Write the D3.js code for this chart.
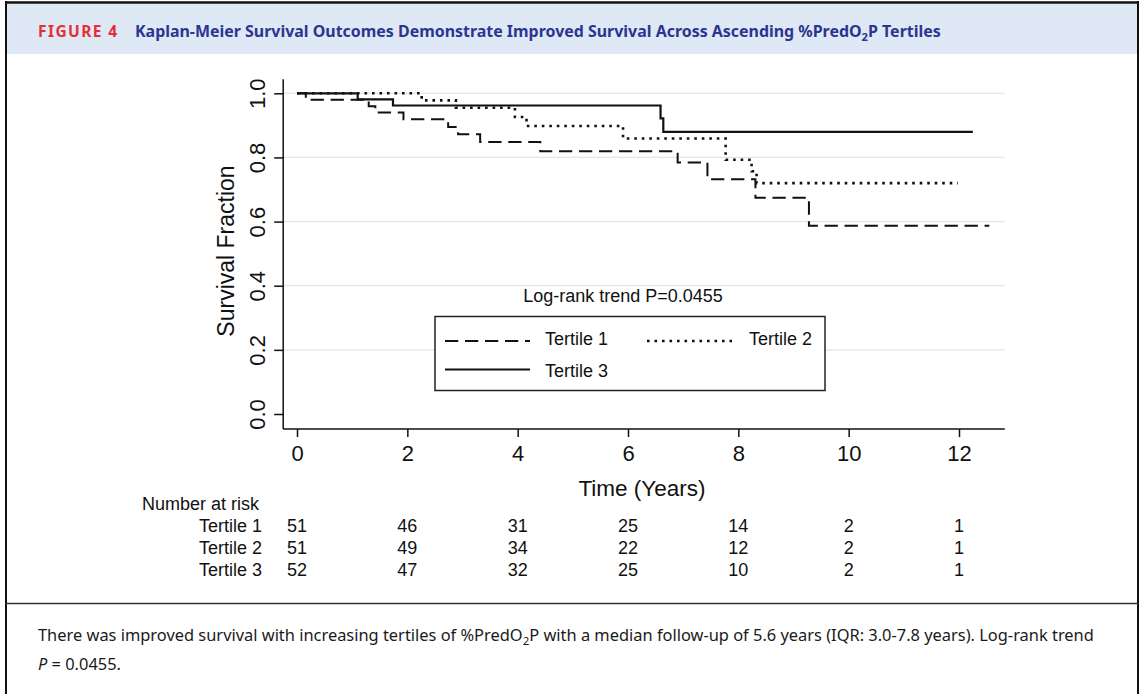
<!DOCTYPE html>
<html>
<head>
<meta charset="utf-8">
<script src="https://cdn.jsdelivr.net/npm/d3@7"></script>
<style>
  body { margin: 0; background: #fff; }
  svg { display: block; font-family: "Liberation Sans", Arial, sans-serif; }
</style>
</head>
<body>
<div id="chart"></div>
<script>
// Kaplan-Meier steps (years, survival fraction)
let t1Times = [0, 0.16, 1.30, 1.42, 1.93, 2.74, 2.92, 3.32, 4.41, 6.90, 7.44, 8.31, 9.28];
let t1Surv  = [1, 0.980, 0.960, 0.940, 0.919, 0.895, 0.872, 0.848, 0.819, 0.784, 0.732, 0.674, 0.587];
let t1End = 12.55;

let t2Times = [0, 2.26, 2.88, 3.95, 4.16, 5.91, 7.77, 8.24, 8.33];
let t2Surv  = [1, 0.978, 0.955, 0.926, 0.898, 0.859, 0.793, 0.757, 0.720];
let t2End = 11.98;

let t3Times = [0, 1.10, 1.74, 6.59, 6.64];
let t3Surv  = [1, 0.981, 0.962, 0.922, 0.880];
let t3End = 12.25;

let seriesNames = ["Tertile 1", "Tertile 2", "Tertile 3"];

// number at risk table
let riskTimes = [0, 2, 4, 6, 8, 10, 12];
let risk1 = [51, 46, 31, 25, 14, 2, 1];
let risk2 = [51, 49, 34, 22, 12, 2, 1];
let risk3 = [52, 47, 32, 25, 10, 2, 1];

// axis ticks
let xTicks = [0, 2, 4, 6, 8, 10, 12];
let yTicks = [0, 0.2, 0.4, 0.6, 0.8, 1.0];
let yTickLabels = ["0.0", "0.2", "0.4", "0.6", "0.8", "1.0"];
let xAxisExtent = [-0.25, 12.83];
let yAxisExtent = [-0.047, 1.044];

let svgWidth = 1142;
let svgHeight = 694;

let svg = d3.select("#chart")
  .append("svg")
  .attr("width", svgWidth)
  .attr("height", svgHeight);

// scale text so it spans a measured width
function fitText(sel, w) {
  let len = sel.node().getComputedTextLength();
  let fs = parseFloat(sel.attr("font-size"));
  sel.attr("font-size", fs * w / len);
}

// ---- frame and header ----
svg.append("rect")
  .attr("x", 7).attr("y", 4)
  .attr("width", 1130).attr("height", 50)
  .attr("fill", "#dfe9f5");

svg.append("line").attr("x1", 5).attr("x2", 1139).attr("y1", 2.5).attr("y2", 2.5)
  .attr("stroke", "#111").attr("stroke-width", 2.5);
svg.append("line").attr("x1", 6).attr("x2", 6).attr("y1", 1).attr("y2", svgHeight)
  .attr("stroke", "#111").attr("stroke-width", 2);
svg.append("line").attr("x1", 1138).attr("x2", 1138).attr("y1", 1).attr("y2", svgHeight)
  .attr("stroke", "#111").attr("stroke-width", 2);
svg.append("line").attr("x1", 6).attr("x2", 1138).attr("y1", 603.5).attr("y2", 603.5)
  .attr("stroke", "#333").attr("stroke-width", 1.5);

let figLabel = svg.append("text")
  .attr("x", 38).attr("y", 37)
  .attr("font-family", "'Noto Sans', sans-serif")
  .attr("font-weight", "bold")
  .attr("font-size", 14)
  .attr("letter-spacing", 1.4)
  .attr("fill", "#e3303a")
  .text("FIGURE 4");
fitText(figLabel, 82);

let title = svg.append("text")
  .attr("x", 135).attr("y", 37)
  .attr("font-family", "'Noto Sans', sans-serif")
  .attr("font-weight", "bold")
  .attr("font-size", 15)
  .attr("fill", "#2c3590");
title.append("tspan").text("Kaplan-Meier Survival Outcomes Demonstrate Improved Survival Across Ascending %PredO");
title.append("tspan").attr("font-size", "70%").attr("dy", 4).text("2");
title.append("tspan").attr("dy", -4).text("P Tertiles");
fitText(title, 806);

// ---- scales ----
let x = d3.scaleLinear().domain([0, 12]).range([297, 959]);
let y = d3.scaleLinear().domain([0, 1]).range([414, 93.3]);

// gridlines
svg.append("g")
  .selectAll("line")
  .data(yTicks.filter(d => d > 0))
  .enter()
  .append("line")
    .attr("x1", x(xAxisExtent[0]))
    .attr("x2", x(xAxisExtent[1]))
    .attr("y1", d => y(d))
    .attr("y2", d => y(d))
    .attr("stroke", "#e4e4e4")
    .attr("stroke-width", 1.3);

// x axis
let xAxisG = svg.append("g")
  .attr("transform", `translate(0, ${y(yAxisExtent[0])})`)
  .call(d3.axisBottom(x).tickValues(xTicks).tickSize(8).tickPadding(8).tickFormat(d3.format("d")));
xAxisG.select(".domain").remove();
xAxisG.selectAll("line").attr("stroke", "#111").attr("stroke-width", 1.5);
xAxisG.selectAll("text")
  .attr("font-family", "'Liberation Sans', Arial, sans-serif")
  .attr("font-size", 22)
  .attr("fill", "#111");
xAxisG.append("line")
  .attr("x1", x(xAxisExtent[0])).attr("x2", x(xAxisExtent[1]))
  .attr("stroke", "#111").attr("stroke-width", 1.5);

// y axis
let yAxisG = svg.append("g")
  .attr("transform", `translate(${x(xAxisExtent[0])}, 0)`)
  .call(d3.axisLeft(y).tickValues(yTicks).tickSize(9).tickFormat((d, i) => yTickLabels[i]));
yAxisG.select(".domain").remove();
yAxisG.selectAll("line").attr("stroke", "#111").attr("stroke-width", 1.5);
yAxisG.selectAll("text")
  .attr("transform", "rotate(-90)")
  .attr("x", 0)
  .attr("y", -18)
  .attr("dy", null)
  .attr("text-anchor", "middle")
  .attr("font-family", "'Liberation Sans', Arial, sans-serif")
  .attr("font-size", 22)
  .attr("fill", "#111");
yAxisG.append("line")
  .attr("y1", y(yAxisExtent[0])).attr("y2", y(yAxisExtent[1]))
  .attr("stroke", "#111").attr("stroke-width", 1.5);

// axis titles
svg.append("text")
  .attr("transform", `translate(234, 251) rotate(-90)`)
  .attr("text-anchor", "middle")
  .attr("font-size", 23)
  .attr("fill", "#111")
  .text("Survival Fraction");

svg.append("text")
  .attr("x", 642).attr("y", 496)
  .attr("text-anchor", "middle")
  .attr("font-size", 22.5)
  .attr("fill", "#111")
  .text("Time (Years)");

// ---- survival curves ----
let line = d3.line()
  .x(d => x(d[0]))
  .y(d => y(d[1]))
  .curve(d3.curveStepAfter);

function steps(times, surv, end) {
  let pts = times.map((t, i) => [t, surv[i]]);
  pts.push([end, surv[surv.length - 1]]);
  return pts;
}

let curves = [
  { pts: steps(t1Times, t1Surv, t1End), dash: "13.3,6.7", width: 2 },
  { pts: steps(t2Times, t2Surv, t2End), dash: "2.6,4.9", width: 2.6 },
  { pts: steps(t3Times, t3Surv, t3End), dash: null, width: 2.2 }
];

svg.append("g")
  .selectAll("path")
  .data(curves)
  .enter()
  .append("path")
    .attr("d", d => line(d.pts))
    .attr("fill", "none")
    .attr("stroke", "#111")
    .attr("stroke-width", d => d.width)
    .attr("stroke-dasharray", d => d.dash);

// ---- log-rank text and legend ----
svg.append("text")
  .attr("x", 623).attr("y", 302)
  .attr("text-anchor", "middle")
  .attr("font-size", 18)
  .attr("fill", "#111")
  .text("Log-rank trend P=0.0455");

svg.append("rect")
  .attr("x", 435).attr("y", 316.5)
  .attr("width", 390).attr("height", 74)
  .attr("fill", "#fff")
  .attr("stroke", "#222")
  .attr("stroke-width", 1.5);

let legendPos = [
  { x: 445, y: 341, tx: 545, ty: 345 },
  { x: 647, y: 341, tx: 749, ty: 345 },
  { x: 445, y: 369.5, tx: 545, ty: 377 }
];

let legend = svg.append("g")
  .selectAll("g")
  .data(curves)
  .enter()
  .append("g");

legend.append("line")
  .attr("x1", (d, i) => legendPos[i].x)
  .attr("x2", (d, i) => legendPos[i].x + 85)
  .attr("y1", (d, i) => legendPos[i].y)
  .attr("y2", (d, i) => legendPos[i].y)
  .attr("stroke", "#111")
  .attr("stroke-width", d => d.width)
  .attr("stroke-dasharray", d => d.dash);

legend.append("text")
  .attr("x", (d, i) => legendPos[i].tx)
  .attr("y", (d, i) => legendPos[i].ty)
  .attr("font-size", 18)
  .attr("fill", "#111")
  .text((d, i) => seriesNames[i]);

// ---- number at risk ----
svg.append("text")
  .attr("x", 142).attr("y", 510)
  .attr("font-size", 18)
  .attr("fill", "#111")
  .text("Number at risk");

let riskRows = [risk1, risk2, risk3];
let riskY = [532, 554, 576];

riskRows.forEach((row, r) => {
  svg.append("text")
    .attr("x", 262).attr("y", riskY[r])
    .attr("text-anchor", "end")
    .attr("font-size", 18)
    .attr("fill", "#111")
    .text(seriesNames[r]);

  svg.append("g")
    .selectAll("text")
    .data(row)
    .enter()
    .append("text")
      .attr("x", (d, i) => x(riskTimes[i]))
      .attr("y", riskY[r])
      .attr("text-anchor", "middle")
      .attr("font-size", 18)
      .attr("fill", "#111")
      .text(d => d);
});

// ---- caption ----
let cap1 = svg.append("text")
  .attr("x", 38).attr("y", 641)
  .attr("font-family", "'Noto Sans', sans-serif")
  .attr("font-size", 15)
  .attr("fill", "#1a1a1a");
cap1.append("tspan").text("There was improved survival with increasing tertiles of %PredO");
cap1.append("tspan").attr("font-size", "70%").attr("dy", 4).text("2");
cap1.append("tspan").attr("dy", -4).text("P with a median follow-up of 5.6 years (IQR: 3.0-7.8 years). Log-rank trend");
fitText(cap1, 1057);

let cap2 = svg.append("text")
  .attr("x", 38).attr("y", 670)
  .attr("font-family", "'Noto Sans', sans-serif")
  .attr("font-size", cap1.attr("font-size"))
  .attr("fill", "#1a1a1a");
cap2.append("tspan").attr("font-style", "italic").text("P");
cap2.append("tspan").text(" = 0.0455.");
</script>
</body>
</html>
